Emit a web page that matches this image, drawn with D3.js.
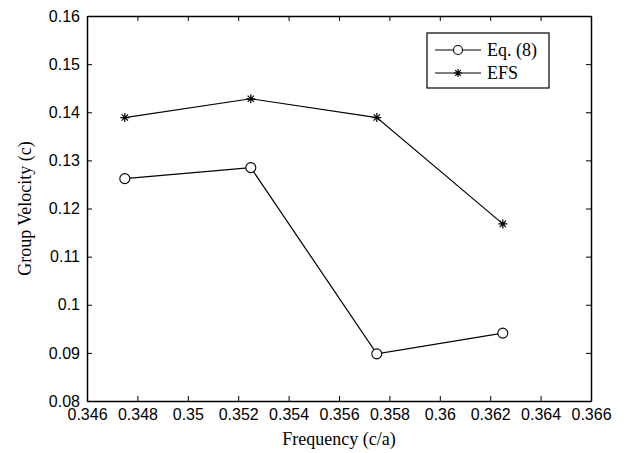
<!DOCTYPE html>
<html>
<head>
<meta charset="utf-8">
<script src="https://cdn.jsdelivr.net/npm/d3@7"></script>
<style>
  body { margin: 0; background: #fff; }
  svg { display: block; }
</style>
</head>
<body>
<div id="bdy"></div>
<script>
var width = 630;
var height = 453;

// data
var frequency = [0.3475, 0.3525, 0.3575, 0.3625];
var eq8 = [0.1262, 0.1285, 0.0898, 0.0941];
var efs = [0.1389, 0.1428, 0.1389, 0.1168];
var xTicks = [0.346, 0.348, 0.35, 0.352, 0.354, 0.356, 0.358, 0.36, 0.362, 0.364, 0.366];
var yTicks = [0.08, 0.09, 0.1, 0.11, 0.12, 0.13, 0.14, 0.15, 0.16];
var seriesNames = ["Eq. (8)", "EFS"];

var margin = {top: 16, right: 39, bottom: 52, left: 87};
var w = width - margin.left - margin.right;
var h = height - margin.top - margin.bottom;

var svg = d3.select('#bdy').append('svg')
    .attr('width', width)
    .attr('height', height);

var g = svg.append('g')
    .attr('transform', 'translate(' + margin.left + ',' + margin.top + ')');

var xScale = d3.scaleLinear().domain([0.346, 0.366]).range([0, w]);
var yScale = d3.scaleLinear().domain([0.08, 0.16]).range([h, 0]);

var fmt = function(d) { return String(+d.toFixed(3)); };

// bottom axis with labels
var xAxis = g.append('g')
    .attr('transform', 'translate(0,' + h + ')')
    .call(d3.axisBottom(xScale).tickValues(xTicks).tickFormat(fmt).tickSizeInner(-5).tickSizeOuter(0).tickPadding(8));
// left axis with labels
var yAxis = g.append('g')
    .call(d3.axisLeft(yScale).tickValues(yTicks).tickFormat(fmt).tickSizeInner(-5).tickSizeOuter(0).tickPadding(7));
// top and right: ticks only
var xTop = g.append('g')
    .call(d3.axisTop(xScale).tickValues(xTicks).tickFormat('').tickSizeInner(-5).tickSizeOuter(0));
var yRight = g.append('g')
    .attr('transform', 'translate(' + w + ',0)')
    .call(d3.axisRight(yScale).tickValues(yTicks).tickFormat('').tickSizeInner(-5).tickSizeOuter(0));

[xAxis, yAxis, xTop, yRight].forEach(function(a) {
    a.select('.domain').attr('stroke', '#000').attr('stroke-width', 1.5);
    a.selectAll('.tick line').attr('stroke', '#000').attr('stroke-width', 1);
    a.selectAll('text')
        .attr('fill', '#000')
        .style('font-family', '"Liberation Sans", Arial, sans-serif')
        .style('font-size', '16px');
});

// axis titles
svg.append('text')
    .attr('x', margin.left + w / 2)
    .attr('y', 445)
    .attr('text-anchor', 'middle')
    .style('font-family', '"Liberation Serif", "Times New Roman", serif')
    .style('font-size', '18px')
    .text('Frequency (c/a)');

svg.append('text')
    .attr('transform', 'translate(31,' + (margin.top + h / 2) + ') rotate(-90)')
    .attr('text-anchor', 'middle')
    .style('font-family', '"Liberation Serif", "Times New Roman", serif')
    .style('font-size', '18px')
    .text('Group Velocity (c)');

var line = d3.line()
    .x(function(d) { return xScale(d[0]); })
    .y(function(d) { return yScale(d[1]); });

var eqPts = frequency.map(function(f, i) { return [f, eq8[i]]; });
var efsPts = frequency.map(function(f, i) { return [f, efs[i]]; });

[eqPts, efsPts].forEach(function(pts) {
    g.append('path')
        .datum(pts)
        .attr('d', line)
        .attr('fill', 'none')
        .attr('stroke', '#000')
        .attr('stroke-width', 1.2);
});

function star(sel, r) {
    var p = 'M' + (-r) + ',0L' + r + ',0M0,' + (-r) + 'L0,' + r +
        'M' + (-r * 0.7) + ',' + (-r * 0.7) + 'L' + (r * 0.7) + ',' + (r * 0.7) +
        'M' + (-r * 0.7) + ',' + (r * 0.7) + 'L' + (r * 0.7) + ',' + (-r * 0.7);
    sel.append('path').attr('d', p).attr('stroke', '#000').attr('stroke-width', 1.2).attr('fill', 'none');
}

g.selectAll('.eqpt')
    .data(eqPts)
    .enter().append('circle')
    .attr('class', 'eqpt')
    .attr('cx', function(d) { return xScale(d[0]); })
    .attr('cy', function(d) { return yScale(d[1]); })
    .attr('r', 5)
    .attr('fill', '#fff')
    .attr('stroke', '#000')
    .attr('stroke-width', 1.1);

g.selectAll('.efspt')
    .data(efsPts)
    .enter().append('g')
    .attr('class', 'efspt')
    .attr('transform', function(d) { return 'translate(' + xScale(d[0]) + ',' + yScale(d[1]) + ')'; })
    .each(function() { star(d3.select(this), 4.5); });

// legend
var legend = svg.append('g').attr('transform', 'translate(427,33)');
legend.append('rect')
    .attr('width', 122)
    .attr('height', 55)
    .attr('fill', '#fff')
    .attr('stroke', '#000')
    .attr('stroke-width', 1.2);

seriesNames.forEach(function(name, i) {
    var yy = 17 + i * 23;
    legend.append('line')
        .attr('x1', 8).attr('x2', 54)
        .attr('y1', yy).attr('y2', yy)
        .attr('stroke', '#000').attr('stroke-width', 1.2);
    if (i === 0) {
        legend.append('circle').attr('cx', 31).attr('cy', yy).attr('r', 4.5)
            .attr('fill', '#fff').attr('stroke', '#000').attr('stroke-width', 1.1);
    } else {
        var s = legend.append('g').attr('transform', 'translate(31,' + yy + ')');
        star(s, 4);
    }
    legend.append('text')
        .attr('x', 60)
        .attr('y', yy + 6)
        .style('font-family', '"Liberation Serif", "Times New Roman", serif')
        .style('font-size', '18px')
        .text(name);
});
</script>
</body>
</html>
